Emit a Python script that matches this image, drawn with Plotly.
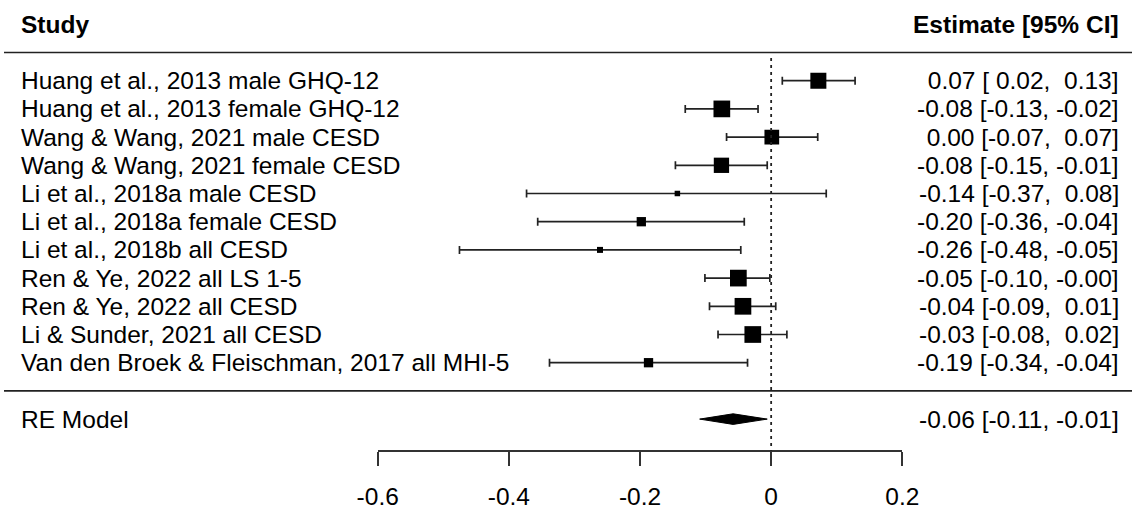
import plotly.graph_objects as go

studies = [
    "Huang et al., 2013 male GHQ-12",
    "Huang et al., 2013 female GHQ-12",
    "Wang & Wang, 2021 male CESD",
    "Wang & Wang, 2021 female CESD",
    "Li et al., 2018a male CESD",
    "Li et al., 2018a female CESD",
    "Li et al., 2018b all CESD",
    "Ren & Ye, 2022 all LS 1-5",
    "Ren & Ye, 2022 all CESD",
    "Li & Sunder, 2021 all CESD",
    "Van den Broek & Fleischman, 2017 all MHI-5",
]
estimate = [0.072, -0.0752, 0.001, -0.0758, -0.143, -0.198, -0.261, -0.050, -0.043, -0.028, -0.187]
ci_lower = [0.017, -0.131, -0.068, -0.146, -0.373, -0.356, -0.4753, -0.101, -0.094, -0.081, -0.338]
ci_upper = [0.128, -0.020, 0.071, -0.006, 0.084, -0.041, -0.0463, -0.002, 0.007, 0.024, -0.036]

re_label = "RE Model"
re_est = -0.058
re_lower = -0.109
re_upper = -0.006

tick_vals = [-0.6, -0.4, -0.2, 0, 0.2]
tick_text = ["-0.6", "-0.4", "-0.2", "0", "0.2"]

# style
marker_px = [16, 16.7, 14.7, 15.3, 5.5, 9.3, 6, 16.7, 16.7, 16.7, 9.3]
FONT = "Liberation Sans, Arial, Helvetica, sans-serif"
FS = 24.5
W, H = 1132, 510
row_px0 = 80.7      # pixel of first study row
row_step = 28.2     # pixels per row
k = len(studies)
rows = [k - i for i in range(k)]
y_top = k + row_px0 / row_step
y_bot = k - (H - row_px0) / row_step
axis_px = 451

def fmt(v):
    return f"{v:5.2f}"

def ci_text(e, lo, hi):
    return f"{fmt(e)} [{fmt(lo)}, {fmt(hi)}]".replace(" ", "\u00a0")

fig = go.Figure()

fig.add_trace(go.Scatter(
    x=estimate, y=rows, mode="markers",
    marker=dict(symbol="square", size=marker_px, color="black", opacity=1,
                line=dict(width=0)),
    error_x=dict(type="data", symmetric=False,
                 array=[h - e for h, e in zip(ci_upper, estimate)],
                 arrayminus=[e - l for e, l in zip(estimate, ci_lower)],
                 color="#222", thickness=1.7, width=4),
    hoverinfo="skip", showlegend=False,
))

dh = 5.3 / row_step
fig.add_trace(go.Scatter(
    x=[re_lower, re_est, re_upper, re_est, re_lower],
    y=[-1, -1 + dh, -1, -1 - dh, -1],
    mode="lines", fill="toself", fillcolor="black",
    line=dict(color="black", width=1), hoverinfo="skip", showlegend=False,
))

shapes = []
for yv in (k + 1, 0):
    shapes.append(dict(type="line", xref="paper", yref="y", x0=4 / W, x1=1,
                       y0=yv, y1=yv, line=dict(color="#222", width=1.6)))
shapes.append(dict(type="line", xref="x", yref="y", x0=0, x1=0,
                   y0=k + (row_px0 - 58) / row_step,
                   y1=k - (axis_px - row_px0) / row_step,
                   line=dict(color="#222", width=1.8, dash="3px,4px")))

ann = []
def add_text(x, y, text, anchor, bold=False):
    t = f"<b>{text}</b>" if bold else text
    ann.append(dict(x=x, y=y, xref="paper", yref="y", text=t, showarrow=False,
                    xanchor=anchor, yanchor="middle",
                    font=dict(family=FONT, size=FS, color="black")))

add_text(19 / W, k + 2, "Study", "left", bold=True)
add_text(1121 / W, k + 2, "Estimate [95% CI]", "right", bold=True)
for r, s, e, lo, hi in zip(rows, studies, estimate, ci_lower, ci_upper):
    add_text(19 / W, r, s, "left")
    add_text(1121 / W, r, ci_text(e, lo, hi), "right")
add_text(19 / W, -1, re_label, "left")
add_text(1121 / W, -1, ci_text(re_est, re_lower, re_upper), "right")

fig.update_layout(
    template="none",
    width=W, height=H, autosize=False,
    margin=dict(l=0, r=0, t=0, b=0, pad=0),
    plot_bgcolor="white", paper_bgcolor="white",
    shapes=shapes, annotations=ann,
    xaxis=dict(domain=[377.7 / W, 902.3 / W], range=[-0.6, 0.2],
               tickvals=tick_vals, ticktext=tick_text,
               showline=True, linecolor="#333", linewidth=1.6,
               ticks="outside", ticklen=14, tickwidth=1.6, tickcolor="#333",
               anchor="free", position=1 - axis_px / H,
               showgrid=False, zeroline=False, automargin=False,
               tickfont=dict(family=FONT, size=FS, color="black"),
               ticklabelstandoff=10),
    yaxis=dict(range=[y_bot, y_top], visible=False, domain=[0, 1],
               automargin=False, showgrid=False, zeroline=False),
)

fig.write_html(
    "out.html",
    config={"displayModeBar": False},
    post_script="document.body.style.margin='0';document.body.style.overflow='hidden';",
)
